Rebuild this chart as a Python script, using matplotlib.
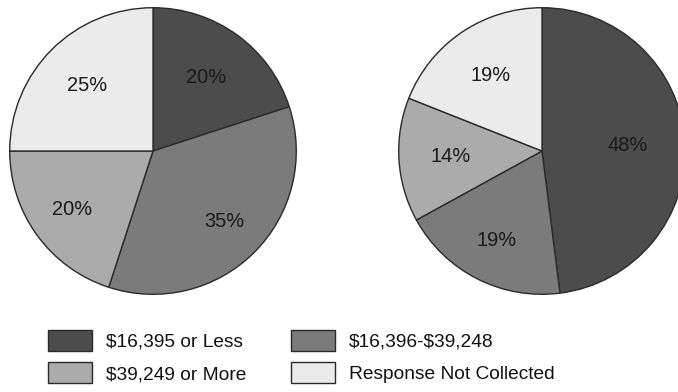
import matplotlib
matplotlib.use("Agg")
import numpy as np
import matplotlib.pyplot as plt
from matplotlib.patches import Patch

plt.rcParams['font.family'] = ['Liberation Sans', 'DejaVu Sans']

categories = ["$16,395 or Less", "$16,396-$39,248", "$39,249 or More", "Response Not Collected"]
left_values = [20, 35, 20, 25]
right_values = [48, 19, 14, 19]
colors = ["#4c4c4c", "#7b7b7b", "#ababab", "#ebebeb"]
edge = "#2a2a2a"

# label distance (fraction of radius) for each wedge's percentage text
left_label_dist = [0.63, 0.70, 0.70, 0.65]
right_label_dist = [0.60, 0.70, 0.64, 0.64]

W, H = 678, 392
fig = plt.figure(figsize=(W / 100, H / 100), dpi=100)

def add_pie(cx, cy, r, values, dists):
    ax = fig.add_axes([(cx - r) / W, (H - cy - r) / H, 2 * r / W, 2 * r / H])
    wedges, _, autotexts = ax.pie(values, colors=colors, startangle=90, counterclock=False,
           autopct=lambda p: f"{p:.0f}%", pctdistance=0.65,
           wedgeprops=dict(edgecolor=edge, linewidth=1.0),
           textprops=dict(fontsize=14.4, color="#1a1a1a"))
    for w, t, d in zip(wedges, autotexts, dists):
        ang = np.deg2rad((w.theta1 + w.theta2) / 2)
        t.set_position((d * np.cos(ang), d * np.sin(ang)))
    ax.set_xlim(-1.005, 1.005)
    ax.set_ylim(-1.005, 1.005)
    ax.set_aspect('equal')
    ax.axis('off')
    return ax

add_pie(153, 151, 144, left_values, left_label_dist)
add_pie(542, 151, 144, right_values, right_label_dist)

handles = [Patch(facecolor=c, edgecolor=edge, linewidth=1.0) for c in colors]
order = [0, 2, 1, 3]
leg = fig.legend([handles[i] for i in order],
                 [categories[i].replace('$', r'\$') for i in order],
                 ncol=2, loc='upper left', bbox_to_anchor=(48 / W, 1 - 330 / H),
                 frameon=False, fontsize=13.8, handlelength=2.3, handleheight=1.3,
                 handletextpad=0.72, columnspacing=2.35, labelspacing=0.6,
                 borderpad=0, borderaxespad=0)
for t in leg.get_texts():
    t.set_color("#111111")

fig.savefig("out.png", dpi=100)
